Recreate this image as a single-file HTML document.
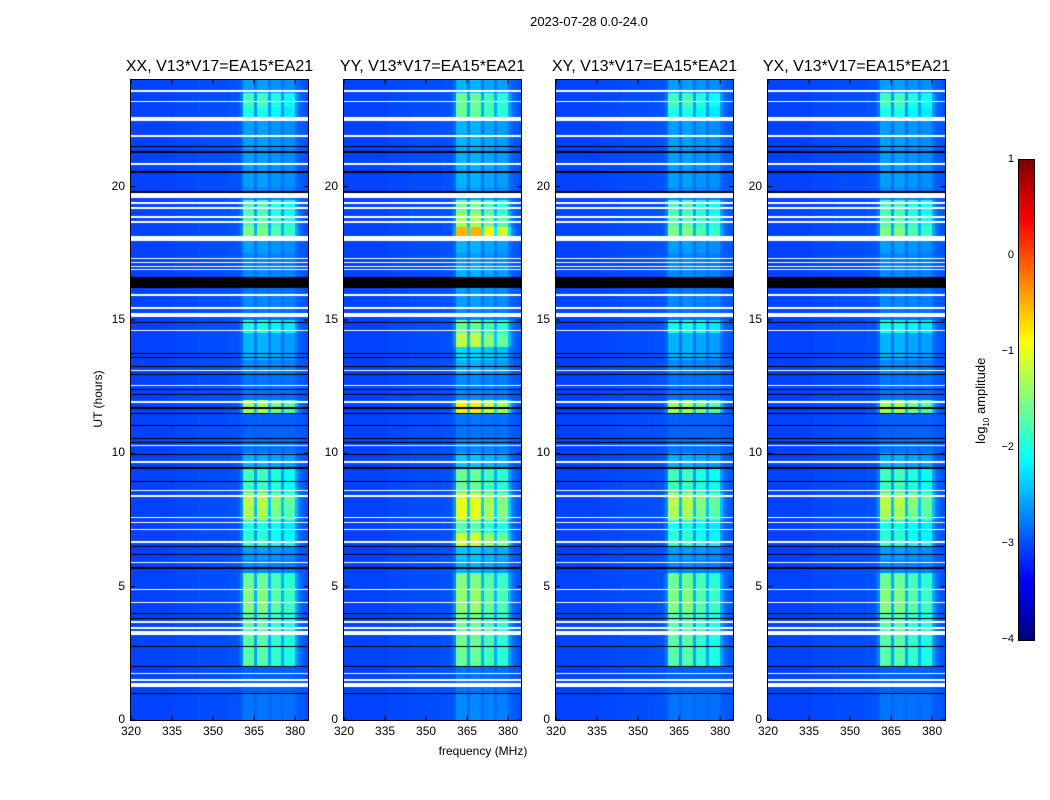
<!DOCTYPE html>
<html><head><meta charset="utf-8">
<style>
body{margin:0;background:#fff;width:1050px;height:800px;overflow:hidden;font-family:"Liberation Sans",sans-serif;}
#root{position:relative;width:1050px;height:800px;}
.t{position:absolute;white-space:nowrap;color:#000;}
canvas{position:absolute;}
</style></head><body>
<div id="root">
<div class="t" style="left:489px;top:14px;width:200px;text-align:center;font-size:13px;">2023-07-28 0.0-24.0</div>
<div class="t" style="left:383px;top:744px;width:200px;text-align:center;font-size:12px;">frequency (MHz)</div>
<div class="t" style="left:48px;top:392px;width:100px;text-align:center;font-size:12px;transform:rotate(-90deg);">UT (hours)</div>
<div class="t" style="left:922px;top:392px;width:120px;text-align:center;font-size:13px;transform:rotate(-90deg);">log<sub style="font-size:8px">10</sub> amplitude</div>
<canvas id="cbar" width="15" height="480" style="left:1019px;top:160px;border:1px solid #000;box-sizing:content-box;margin:-1px 0 0 -1px;"></canvas>
</div>
<script>
// ---- data ----
const panelTitles = ["XX, V13*V17=EA15*EA21","YY, V13*V17=EA15*EA21","XY, V13*V17=EA15*EA21","YX, V13*V17=EA15*EA21"];
const xTicks = [320,335,350,365,380];
const yTicks = [0,5,10,15,20];
const cbTicks = [1,0,-1,-2,-3,-4];
// baseline log amplitude per 4 MHz bin, 320..384
const baseline = [-3.05,-3.05,-3.05,-3.05,-3.02,-3.02,-3.0,-3.0,-3.0,-2.98,-2.95,-2.92,-2.9,-2.9,-2.9,-2.95,-3.0];
// RFI band strength per 0.5 h row (0..24h)
const bandXX = [-2.8,-2.8,-2.9,-2.9,-1.7,-1.7,-1.7,-1.7,-1.5,-1.5,-1.6,-2.7,-2.6,-1.9,-2.0,-1.3,-1.2,-1.8,-1.8,-2.5,-2.8,-2.9,-2.9,-1.3,-2.8,-2.8,-2.7,-2.5,-2.5,-2.0,-2.8,-2.7,-2.8,-2.7,-2.7,-2.6,-1.5,-1.7,-1.8,-2.7,-2.6,-2.6,-2.6,-2.6,-2.6,-2.0,-1.8,-2.6];
const bandYY = [-2.7,-2.7,-2.8,-2.8,-1.6,-1.6,-1.6,-1.6,-1.4,-1.4,-1.5,-2.5,-2.4,-1.1,-1.7,-1.0,-1.0,-1.6,-1.6,-2.4,-2.7,-2.8,-2.8,-0.8,-2.7,-2.7,-2.5,-2.3,-1.2,-1.6,-2.7,-2.6,-2.6,-2.5,-2.6,-2.5,-0.5,-1.3,-1.6,-2.6,-2.5,-2.5,-2.5,-2.5,-2.5,-1.6,-1.6,-2.5];
const bandXY = [-2.8,-2.8,-2.9,-2.9,-1.7,-1.7,-1.7,-1.7,-1.5,-1.5,-1.6,-2.7,-2.6,-1.9,-2.0,-1.3,-1.2,-1.8,-1.8,-2.5,-2.8,-2.9,-2.9,-1.3,-2.8,-2.8,-2.7,-2.5,-2.5,-2.0,-2.8,-2.7,-2.8,-2.7,-2.7,-2.6,-1.5,-1.7,-1.8,-2.7,-2.6,-2.6,-2.6,-2.6,-2.6,-2.0,-1.8,-2.6];
const bandYX = [-2.8,-2.8,-2.9,-2.9,-1.7,-1.7,-1.7,-1.7,-1.5,-1.5,-1.6,-2.7,-2.6,-1.9,-2.0,-1.3,-1.2,-1.8,-1.8,-2.5,-2.8,-2.9,-2.9,-1.3,-2.8,-2.8,-2.7,-2.5,-2.5,-2.0,-2.8,-2.7,-2.8,-2.7,-2.7,-2.6,-1.5,-1.7,-1.8,-2.7,-2.6,-2.6,-2.6,-2.6,-2.6,-2.0,-1.8,-2.6];
const bands = [bandXX,bandYY,bandXY,bandYX];
// band weight per 1 MHz channel 320..384
const weight = [0,0,0,0,0,0,0,0,0,0,0,0,0,0,0,0,0,0,0,0,0,0,0,0,0,0,0,0,0,0,0,0,0,0,0,0,0,0,0,0.05,0.15,1,1,1,1,0.3,1,1,1,1,0.3,0.85,0.85,0.85,0.85,0.3,0.75,0.75,0.75,0.75,0.3,0.1,0.05,0,0];
// flagged (white) time ranges, hours
const whiteFlags = [[23.56,23.64],[23.17,23.23],[22.48,22.6],[21.87,21.93],[20.82,20.88],[19.57,19.75],[19.36,19.42],[19.17,19.23],[18.83,18.89],[18.64,18.7],[17.98,18.16],[17.28,17.33],[17.13,17.18],[16.98,17.03],[16.88,16.93],[15.91,15.97],[15.42,15.48],[15.1,15.28],[14.57,14.63],[13.07,13.13],[12.52,12.58],[11.88,11.96],[10.27,10.33],[9.64,9.7],[8.57,8.63],[8.37,8.43],[7.57,7.63],[7.37,7.43],[7.12,7.18],[6.64,6.7],[5.87,5.93],[4.87,4.93],[4.37,4.43],[3.64,3.7],[3.42,3.48],[3.2,3.34],[1.72,1.78],[1.47,1.53],[1.22,1.38]];
const blackFlags = [[16.2,16.6],[21.48,21.52],[21.28,21.32],[20.53,20.57],[19.78,19.82],[14.88,14.92],[13.73,13.77],[13.58,13.62],[13.23,13.27],[12.93,12.97],[12.38,12.42],[12.18,12.22],[11.68,11.72],[11.48,11.52],[11.04,11.08],[10.52,10.56],[10.4,10.44],[9.95,9.99],[9.43,9.47],[8.94,8.98],[6.62,6.66],[6.47,6.51],[6.2,6.24],[5.68,5.72],[3.99,4.03],[3.8,3.84],[2.72,2.76],[1.97,2.01],[0.99,1.03]];

// ---- rendering ----
const root = document.getElementById('root');
const PX = [131,344,556,768], PW = 177, PT = 80, PH = 640;
const FMIN = 320, FMAX = 384.7;
function xScale(f){return (f-FMIN)/(FMAX-FMIN)*PW;}
function yScale(h){return PH - h/24*PH;}
function jet(v){const x=Math.max(0,Math.min(1,(v+4)/5));
 const c=t=>Math.round(255*Math.max(0,Math.min(1,1.5-Math.abs(4*x-t))));
 return [c(3),c(2),c(1)];}
function inFlags(h,list){for(const r of list){if(h>=r[0]&&h<=r[1])return true;}return false;}
function addText(txt,left,top,style,name){const d=document.createElement('div');d.className='t';d.textContent=txt;
 d.style.cssText=`left:${left}px;top:${top}px;`+style;
 
 
 root.appendChild(d);return d;}

PX.forEach((px,p)=>{
 const cv=document.createElement('canvas');cv.width=PW;cv.height=PH;
 cv.style.left=px+'px';cv.style.top=PT+'px';
 
 
 root.appendChild(cv);
 const ctx=cv.getContext('2d');const img=ctx.createImageData(PW,PH);
 const band=bands[p];
 for(let y=0;y<PH;y++){
  const h=(PH-y-0.5)/PH*24;
  const white=inFlags(h,whiteFlags), black=inFlags(h,blackFlags);
  const ti=Math.min(band.length-1,Math.floor(h/0.5));
  for(let x=0;x<PW;x++){
   const i=(y*PW+x)*4;let col;
   if(white)col=[255,255,255];else if(black)col=[0,0,0];
   else{const f=FMIN+(x+0.5)/PW*(FMAX-FMIN);
    const ch=Math.min(weight.length-1,Math.floor(f-FMIN));
    const b=baseline[Math.min(baseline.length-1,Math.floor((f-FMIN)/4))];
    const w=weight[ch];
    const v=b+w*Math.max(0,band[ti]-b);
    col=jet(v);}
   img.data[i]=col[0];img.data[i+1]=col[1];img.data[i+2]=col[2];img.data[i+3]=255;}
 }
 ctx.putImageData(img,0,0);
 const svgNS='http://www.w3.org/2000/svg';
 const s=document.createElementNS(svgNS,'svg');
 s.setAttribute('width',PW+2);s.setAttribute('height',PH+2);
 s.style.cssText=`position:absolute;left:${px-1}px;top:${PT-1}px;`;
 
 
 let inner=`<rect x="0.5" y="0.5" width="${PW+1}" height="${PH+1}" fill="none" stroke="#000"/>`;
 xTicks.forEach(t=>{const x=xScale(t)+1;inner+=`<line x1="${x}" y1="${PH+1}" x2="${x}" y2="${PH-3}" stroke="#000"/><line x1="${x}" y1="1" x2="${x}" y2="5" stroke="#000"/>`;});
 yTicks.forEach(t=>{const y=yScale(t)+1;inner+=`<line x1="1" y1="${y}" x2="5" y2="${y}" stroke="#000"/><line x1="${PW+1}" y1="${y}" x2="${PW-3}" y2="${y}" stroke="#000"/>`;});
 s.innerHTML=inner;root.appendChild(s);
 addText(panelTitles[p],px-22,58,'width:'+(PW+44)+'px;text-align:center;font-size:16px;','panel-title-'+(p+1));
 xTicks.forEach(t=>{addText(String(t),px+xScale(t)-20,724,'width:40px;text-align:center;font-size:12px;','x-tick-label');});
 yTicks.forEach(t=>{addText(String(t),px-40,PT+yScale(t)-8,'width:34px;text-align:right;font-size:12px;','y-tick-label');});
});

// colorbar
const cb=document.getElementById('cbar'),cctx=cb.getContext('2d');
for(let y=0;y<480;y++){const v=1-5*(y+0.5)/480;const c=jet(v);cctx.fillStyle=`rgb(${c[0]},${c[1]},${c[2]})`;cctx.fillRect(0,y,15,1);}
cbTicks.forEach(t=>{const y=160+(1-t)/5*480;
 addText(t<0?'\u2212'+Math.abs(t):String(t),985,y-7,'width:29px;text-align:right;font-size:11px;','colorbar-tick-label');});
</script>
</body></html>
